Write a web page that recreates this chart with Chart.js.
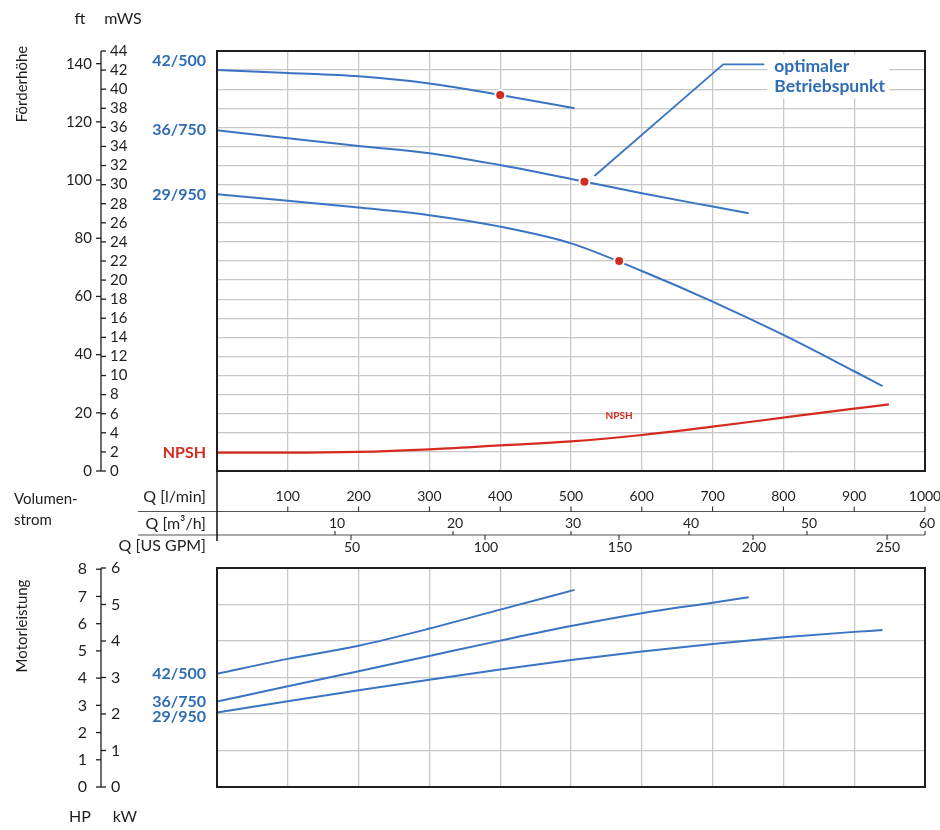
<!DOCTYPE html>
<html><head><meta charset="utf-8">
<script src="https://cdn.jsdelivr.net/npm/chart.js@4.4.1/dist/chart.umd.min.js"></script>
<style>
html,body{margin:0;padding:0;background:#fff;}
#wrap{position:relative;width:940px;height:830px;overflow:hidden;}
canvas{position:absolute;left:0;}
</style>
</head><body>
<div id="wrap">
<canvas id="cTop" width="940" height="560" style="top:0px"></canvas>
<canvas id="cBot" width="940" height="270" style="top:560px"></canvas>
</div>
<script>
// ---------- data (flow in l/min, head in mWS, power in kW) ----------
const q42 = [0, 100, 200, 300, 400, 505];
const head42 = [42.0, 41.7, 41.35, 40.6, 39.4, 38.0];
const q36 = [0, 100, 200, 300, 400, 500, 600, 700, 751];
const head36 = [35.7, 34.85, 34.05, 33.3, 32.05, 30.6, 29.1, 27.7, 27.0];
const q29 = [0, 100, 200, 300, 400, 500, 600, 700, 800, 900, 940];
const head29 = [29.0, 28.3, 27.6, 26.8, 25.6, 23.85, 20.95, 17.75, 14.25, 10.45, 8.9];
const qNpsh = [0, 100, 200, 300, 400, 500, 600, 700, 800, 900, 949];
const npsh = [1.92, 1.92, 2.0, 2.27, 2.69, 3.1, 3.77, 4.64, 5.59, 6.53, 6.98];
const bepQ = [400, 519, 568];
const bepHead = [39.4, 30.3, 22.0];
const leaderQ = [533, 715, 773];
const leaderHead = [30.9, 42.6, 42.6];
const power42 = [3.10, 3.51, 3.87, 4.34, 4.86, 5.40];
const power36 = [2.34, 2.76, 3.17, 3.59, 4.01, 4.41, 4.76, 5.05, 5.20];
const power29 = [2.04, 2.35, 2.65, 2.94, 3.22, 3.48, 3.71, 3.92, 4.10, 4.25, 4.30];

const pumpNames = ['42/500', '36/750', '29/950'];
const npshName = 'NPSH';
const leaderText = ['optimaler', 'Betriebspunkt'];

const lminTicks = [100, 200, 300, 400, 500, 600, 700, 800, 900, 1000];
const m3hTicks = [10, 20, 30, 40, 50, 60];
const gpmTicks = [50, 100, 150, 200, 250];
const mwsTicks = [0,2,4,6,8,10,12,14,16,18,20,22,24,26,28,30,32,34,36,38,40,42,44];
const ftTicks = [0, 20, 40, 60, 80, 100, 120, 140];
const kwTicks = [0, 1, 2, 3, 4, 5, 6];
const hpTicks = [0, 1, 2, 3, 4, 5, 6, 7, 8];

const M3H_PER_LMIN = 0.06, GPM_PER_LMIN = 0.264172, FT_PER_M = 3.28084, HP_PER_KW = 1 / 0.7457;

// ---------- style ----------
const BLUE = '#3a74c2', BLUE_TXT = '#2f6cb6', RED = '#d42a20', INK = '#1e1e1e', GRID = '#c8c8c8';
const FONT = 'Lato, "Open Sans", sans-serif';
const F_TICK = '15px ' + FONT, F_XTICK = '14px ' + FONT, F_ROW = '16px ' + FONT, F_NAME = 'bold 16px ' + FONT;
const AX = 101;

function pts(xs, ys) { return xs.map((v, i) => ({x: v, y: ys[i]})); }
function ln(ctx, x1, y1, x2, y2) { ctx.beginPath(); ctx.moveTo(x1, y1); ctx.lineTo(x2, y2); ctx.stroke(); }
function tx(ctx, s, x, y, align, font, color) { ctx.font = font; ctx.fillStyle = color; ctx.textAlign = align; ctx.textBaseline = 'middle'; ctx.fillText(s, x, y); }
function vtx(ctx, s, x, y, font, color) { ctx.save(); ctx.translate(x, y); ctx.rotate(-Math.PI / 2); tx(ctx, s, 0, 0, 'center', font, color); ctx.restore(); }
function frame(ctx, a) { ctx.strokeStyle = INK; ctx.lineWidth = 2; ctx.strokeRect(a.left, a.top, a.right - a.left, a.bottom - a.top); }

function curve(data, color, w) {
  return {data, borderColor: color, borderWidth: w || 2, pointRadius: 0, fill: false,
          tension: 0.4, cubicInterpolationMode: 'monotone'};
}

// ---------- top chart ----------
const topDecor = {
  id: 'topDecor',
  afterDatasetsDraw(chart) {
    const {ctx, scales: {x, y}} = chart;
    const ex = x.getPixelForValue(leaderQ[2]), ey = y.getPixelForValue(leaderHead[2]);
    ctx.save();
    ctx.fillStyle = '#fff';
    ctx.fillRect(ex + 3, ey - 10, 122, 44);
    tx(ctx, leaderText[0], ex + 10, ey + 2, 'left', 'bold 17.5px ' + FONT, BLUE_TXT);
    tx(ctx, leaderText[1], ex + 10, ey + 22, 'left', 'bold 17.5px ' + FONT, BLUE_TXT);
    tx(ctx, npshName, x.getPixelForValue(568), y.getPixelForValue(5.8), 'center', 'bold 10px ' + FONT, RED);
    ctx.restore();
  },
  afterDraw(chart) {
    const {ctx, chartArea: a, scales: {x, y, yFt, xM3, xGpm}} = chart;
    ctx.save();
    frame(ctx, a);
    // left double axis
    ctx.strokeStyle = INK; ctx.lineWidth = 1.3;
    ln(ctx, AX, y.getPixelForValue(0), AX, y.getPixelForValue(44));
    mwsTicks.forEach(v => { const p = y.getPixelForValue(v); ln(ctx, AX, p, AX + 5, p); tx(ctx, String(v), AX + 9, p, 'left', F_TICK, INK); });
    ftTicks.forEach(v => { const p = yFt.getPixelForValue(v); ln(ctx, AX - 5, p, AX, p); tx(ctx, String(v), AX - 9, p, 'right', F_TICK, INK); });
    tx(ctx, 'ft', 80, 19, 'center', '16px ' + FONT, INK);
    tx(ctx, 'mWS', 123, 19, 'center', '16px ' + FONT, INK);
    vtx(ctx, 'Förderhöhe', 22, 84, '15px ' + FONT, INK);
    // series names
    const heads = [head42, head36, head29], dy = [-9, 0, 1];
    pumpNames.forEach((n, i) => tx(ctx, n, 206, y.getPixelForValue(heads[i][0]) + dy[i], 'right', F_NAME, BLUE_TXT));
    tx(ctx, npshName, 206, y.getPixelForValue(npsh[0]), 'right', F_NAME, RED);
    // flow axes rows
    const r1 = 511.5, r2 = 535, r3 = 541;
    ctx.strokeStyle = '#555'; ctx.lineWidth = 1.2;
    ln(ctx, 138, r1, a.right, r1);
    ln(ctx, 138, r2, a.right, r2);
    ctx.strokeStyle = INK; ctx.lineWidth = 1.6;
    ln(ctx, a.left, a.bottom, a.left, r3);
    ctx.lineWidth = 1;
    lminTicks.forEach(v => { const p = x.getPixelForValue(v); ln(ctx, p, r1 - 5, p, r1); tx(ctx, String(v), p, 496.5, 'center', F_XTICK, INK); });
    m3hTicks.forEach(v => { const p = xM3.getPixelForValue(v); ln(ctx, p, r2 - 4, p, r2); tx(ctx, String(v), p + 2, 523.5, 'center', F_XTICK, INK); });
    gpmTicks.forEach(v => { const p = xGpm.getPixelForValue(v); ln(ctx, p, r2, p, r2 + 5); tx(ctx, String(v), p + 1, 547, 'center', F_XTICK, INK); });
    tx(ctx, 'Q [l/min]', 206, 496.5, 'right', F_ROW, INK);
    tx(ctx, 'Q [m³/h]', 206, 523.5, 'right', F_ROW, INK);
    tx(ctx, 'Q [US GPM]', 206, 546, 'right', F_ROW, INK);
    tx(ctx, 'Volumen-', 14, 499, 'left', F_TICK, INK);
    tx(ctx, 'strom', 14, 520, 'left', F_TICK, INK);
    ctx.restore();
  }
};

const hiddenLin = (min, max) => ({type: 'linear', min, max, display: false});
const gridLin = (min, max, step) => ({
  type: 'linear', min, max,
  ticks: {display: false, stepSize: step},
  grid: {color: GRID, lineWidth: 1.3, drawTicks: false},
  border: {display: false}
});

new Chart(document.getElementById('cTop'), {
  type: 'line',
  data: {datasets: [
    {data: pts(bepQ, bepHead), showLine: false, pointRadius: 5, pointBackgroundColor: RED,
     pointBorderColor: '#fff', pointBorderWidth: 2, order: -1},
    curve(pts(q42, head42), BLUE),
    curve(pts(q36, head36), BLUE),
    curve(pts(q29, head29), BLUE),
    curve(pts(qNpsh, npsh), RED, 2.2),
    {data: pts(leaderQ, leaderHead), borderColor: BLUE, borderWidth: 1.8, pointRadius: 0, tension: 0, fill: false}
  ]},
  options: {
    responsive: false, animation: false, devicePixelRatio: 1,
    layout: {padding: {left: 217, right: 15, top: 51, bottom: 89}},
    plugins: {legend: {display: false}, tooltip: {enabled: false}},
    scales: {
      x: gridLin(0, 1000, 100),
      xM3: Object.assign(hiddenLin(0, 1000 * M3H_PER_LMIN), {position: 'bottom'}),
      xGpm: Object.assign(hiddenLin(0, 1000 * GPM_PER_LMIN), {position: 'bottom'}),
      y: gridLin(0, 44, 2),
      yFt: Object.assign(hiddenLin(0, 44 * FT_PER_M), {position: 'left'})
    }
  },
  plugins: [topDecor]
});

// ---------- bottom chart ----------
const botDecor = {
  id: 'botDecor',
  afterDraw(chart) {
    const {ctx, chartArea: a, scales: {y, yHp}} = chart;
    ctx.save();
    frame(ctx, a);
    ctx.strokeStyle = INK; ctx.lineWidth = 1.3;
    ln(ctx, AX, y.getPixelForValue(0), AX, y.getPixelForValue(6));
    kwTicks.forEach(v => { const p = y.getPixelForValue(v); ln(ctx, AX, p, AX + 5, p); tx(ctx, String(v), AX + 10, p, 'left', '16px ' + FONT, INK); });
    hpTicks.forEach(v => { const p = yHp.getPixelForValue(v); ln(ctx, AX - 5, p, AX, p); tx(ctx, String(v), AX - 14, p, 'right', '16px ' + FONT, INK); });
    tx(ctx, 'HP', 80, 257, 'center', '16px ' + FONT, INK);
    tx(ctx, 'kW', 125, 257, 'center', '16px ' + FONT, INK);
    vtx(ctx, 'Motorleistung', 22, 66, '15px ' + FONT, INK);
    const pw = [power42, power36, power29], dy = [0, 0.5, 4];
    pumpNames.forEach((n, i) => tx(ctx, n, 206, y.getPixelForValue(pw[i][0]) + dy[i], 'right', F_NAME, BLUE_TXT));
    ctx.restore();
  }
};

new Chart(document.getElementById('cBot'), {
  type: 'line',
  data: {datasets: [
    curve(pts(q42, power42), BLUE),
    curve(pts(q36, power36), BLUE),
    curve(pts(q29, power29), BLUE)
  ]},
  options: {
    responsive: false, animation: false, devicePixelRatio: 1,
    layout: {padding: {left: 217, right: 15, top: 8, bottom: 43}},
    plugins: {legend: {display: false}, tooltip: {enabled: false}},
    scales: {
      x: gridLin(0, 1000, 100),
      y: gridLin(0, 6, 1),
      yHp: Object.assign(hiddenLin(0, 6 * HP_PER_KW), {position: 'left'})
    }
  },
  plugins: [botDecor]
});
</script>
</body></html>
